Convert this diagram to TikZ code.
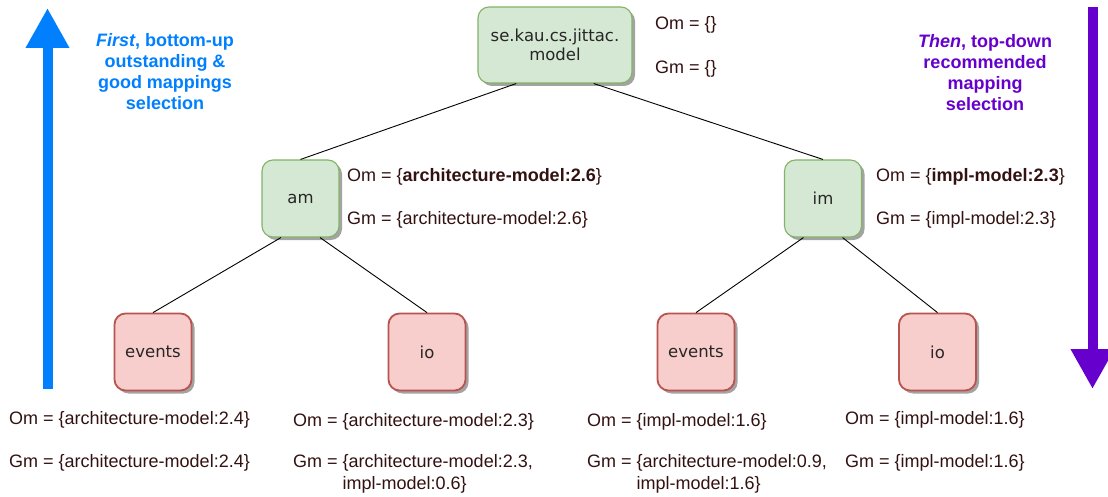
\documentclass[tikz,border=0pt]{standalone}
\usepackage{fontspec}
\setmainfont{Liberation Sans}
\newfontfamily\boxfont{DejaVu Sans}
\usetikzlibrary{arrows.meta,shadows,calc}
\definecolor{txt}{RGB}{51,17,17}
\definecolor{gfill}{HTML}{D5E8D4}
\definecolor{gline}{HTML}{82B366}
\definecolor{rfill}{HTML}{F8CECC}
\definecolor{rline}{HTML}{B85450}
\definecolor{upblue}{HTML}{007FFF}
\definecolor{downpurple}{HTML}{6600CC}
\tikzset{
  pkg/.style={rounded corners=11pt, minimum width=77pt, minimum height=77pt,
    font=\boxfont\fontsize{16.5}{18.5}\selectfont, align=center, text=black!85,
    drop shadow={shadow xshift=3pt, shadow yshift=-3pt, fill=black!40, opacity=0.9}},
  green/.style={pkg, fill=gfill, draw=gline, line width=1.1pt},
  red/.style={pkg, fill=rfill, draw=rline, line width=1.8pt},
  lbl/.style={anchor=west, inner sep=0pt, text=txt, font=\fontsize{18}{22}\selectfont, align=left},
  edge/.style={draw=black, line width=0.9pt},
  bigarrow/.style={line width=10pt, -{Triangle[length=40pt,width=41pt]}},
  note/.style={align=center, font=\bfseries\fontsize{18}{21}\selectfont}
}
\begin{document}
\begin{tikzpicture}[x=1pt,y=-1pt]
\useasboundingbox (0,0) rectangle (1108,497);
% boxes
\node[green, minimum width=154pt, minimum height=76pt] (root) at (555,45) {se.kau.cs.jittac.\\model};
\node[green] (am) at (300.5,198.5) {am};
\node[green] (im) at (823,198.5) {im};
\node[red] (ev1) at (153,352) {events};
\node[red] (io1) at (427,352) {io};
\node[red] (ev2) at (696,352) {events};
\node[red] (io2) at (937.5,352) {io};
% edges
\draw[edge] ($(root.south west)!0.25!(root.south east)$) -- (am.north);
\draw[edge] ($(root.south west)!0.75!(root.south east)$) -- (im.north);
\draw[edge] ($(am.south west)!0.25!(am.south east)$) -- (ev1.north);
\draw[edge] ($(am.south west)!0.75!(am.south east)$) -- (io1.north);
\draw[edge] ($(im.south west)!0.25!(im.south east)$) -- (ev2.north);
\draw[edge] ($(im.south west)!0.75!(im.south east)$) -- (io2.north);
% labels
\node[lbl] (rootom) at (655,25) {Om = \{\}};
\node[lbl] (rootgm) at (655,69) {Gm = \{\}};
\node[lbl] (amom) at (347,177) {Om = \{\textbf{architecture-model:2.6}\}};
\node[lbl] (amgm) at (347,220) {Gm = \{architecture-model:2.6\}};
\node[lbl] (imom) at (876,177) {Om = \{\textbf{impl-model:2.3}\}};
\node[lbl] (imgm) at (876,220) {Gm = \{impl-model:2.3\}};
\node[lbl] (ev1om) at (9,420) {Om = \{architecture-model:2.4\}};
\node[lbl] (ev1gm) at (9,463) {Gm = \{architecture-model:2.4\}};
\node[lbl] (io1om) at (293,422) {Om = \{architecture-model:2.3\}};
\node[lbl, anchor=north west] (io1gm) at (293,454) {Gm = \{architecture-model:2.3,\\\phantom{Gm = }impl-model:0.6\}};
\node[lbl] (ev2om) at (587,422) {Om = \{impl-model:1.6\}};
\node[lbl, anchor=north west] (ev2gm) at (587,454) {Gm = \{architecture-model:0.9,\\\phantom{Gm = }impl-model:1.6\}};
\node[lbl] (io2om) at (845,420) {Om = \{impl-model:1.6\}};
\node[lbl] (io2gm) at (845,463) {Gm = \{impl-model:1.6\}};
% big arrows
\coordinate (upS) at (47.5,389);
\coordinate (upE) at (47.5,8);
\draw[bigarrow, draw=upblue, fill=upblue] (upS) -- (upE);
\coordinate (dnS) at (1092.5,7);
\coordinate (dnE) at (1092.5,389);
\draw[bigarrow, draw=downpurple, fill=downpurple] (dnS) -- (dnE);
\node[note, text=upblue] (firstnote) at (165,72) {\textit{First}, bottom-up\\outstanding \&\\good mappings\\selection};
\node[note, text=downpurple] (thennote) at (985,73) {\textit{Then}, top-down\\recommended\\mapping\\selection};
\end{tikzpicture}
\end{document}
